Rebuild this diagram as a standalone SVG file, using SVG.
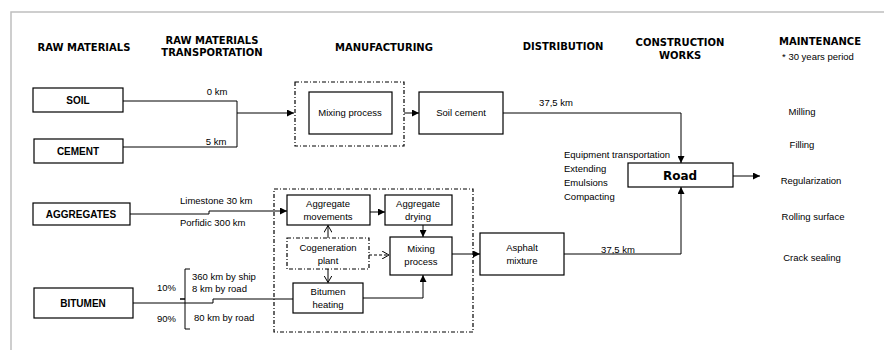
<svg xmlns="http://www.w3.org/2000/svg" width="884" height="350" viewBox="0 0 884 350">
<defs>
<marker id="ah" markerWidth="7" markerHeight="7" refX="7" refY="3.5" orient="auto" markerUnits="userSpaceOnUse"><path d="M0,0 L7,3.5 L0,7 Z" fill="#000"/></marker>
<marker id="oh" markerWidth="8" markerHeight="8" refX="7" refY="4" orient="auto" markerUnits="userSpaceOnUse"><path d="M0,0 L7,4 L0,8" fill="none" stroke="#000" stroke-width="1"/></marker>
</defs>
<style>
.hd{font-family:"DejaVu Sans",Verdana,sans-serif;font-weight:bold;font-size:10px;fill:#000;text-anchor:middle}
.bx{fill:#fff;stroke:#000;stroke-width:1.2}
.dbx{fill:none;stroke:#000;stroke-width:1.2;stroke-dasharray:4 2 1 2}
.lb{font-family:"Liberation Sans",Arial,sans-serif;font-size:9.5px;fill:#000;text-anchor:middle}
.lbl{font-family:"Liberation Sans",Arial,sans-serif;font-size:9.5px;fill:#000}
.bl{font-family:"Liberation Sans",Arial,sans-serif;font-size:10px;font-weight:bold;fill:#000;text-anchor:middle}
.ln{fill:none;stroke:#000;stroke-width:1}
.dl{fill:none;stroke:#000;stroke-width:1;stroke-dasharray:3 2}
</style>
<rect width="884" height="350" fill="#fff"/>
<path d="M11,350 V12 H884" fill="none" stroke="#bfbfbf" stroke-width="1.5"/>

<g id="headers">
<text class="hd" x="84" y="51">RAW MATERIALS</text>
<text class="hd" x="212" y="44">RAW MATERIALS</text>
<text class="hd" x="212" y="56">TRANSPORTATION</text>
<text class="hd" x="384" y="51">MANUFACTURING</text>
<text class="hd" x="563" y="50">DISTRIBUTION</text>
<text class="hd" x="680" y="46">CONSTRUCTION</text>
<text class="hd" x="680" y="59">WORKS</text>
<text class="hd" x="820" y="45">MAINTENANCE</text>
<text class="lb" x="818" y="60">* 30 years period</text>
</g>

<g id="connectors">
<path class="ln" d="M123,101 H237 V147"/>
<path class="ln" d="M123,147 H237"/>
<path class="ln" d="M237,113 H294" marker-end="url(#ah)"/>
<path class="ln" d="M404,113 H419" marker-end="url(#ah)"/>
<path class="ln" d="M503,113 H681 V163" marker-end="url(#ah)"/>
<path class="ln" d="M130,214 H209 V211 H287" marker-end="url(#ah)"/>
<path class="ln" d="M133,303 H213 V299 H293"/>
<path class="ln" d="M370,212 H385" marker-end="url(#ah)"/>
<path class="ln" d="M423,225 V237" marker-end="url(#ah)"/>
<path class="ln" d="M328,238 V225.5" marker-end="url(#oh)"/>
<path class="ln" d="M328,269 V282.5" marker-end="url(#oh)"/>
<path class="dl" d="M369,255 H389" marker-end="url(#oh)"/>
<path class="ln" d="M363,298 H423 V275" marker-end="url(#ah)"/>
<path class="ln" d="M452,254 H480" marker-end="url(#ah)"/>
<path class="ln" d="M564,254 H681 V187" marker-end="url(#ah)"/>
<path class="ln" d="M733,176 H760" marker-end="url(#ah)"/>
<path class="ln" d="M190,269 H185 V329 H190"/>
<path d="M180,299 H185" stroke="#000" stroke-width="1.5"/>
</g>

<g id="labels">
<text class="lb" x="217" y="95">0 km</text>
<text class="lb" x="216" y="145">5 km</text>
<text class="lb" x="556" y="106">37,5 km</text>
<text class="lb" x="618" y="253">37,5 km</text>
<text class="lbl" x="180" y="204">Limestone 30 km</text>
<text class="lbl" x="180" y="226">Porfidic 300 km</text>
<text class="lbl" x="157" y="291">10%</text>
<text class="lbl" x="157" y="322">90%</text>
<text class="lbl" x="192" y="280">360 km by ship</text>
<text class="lbl" x="192" y="292">8 km by road</text>
<text class="lbl" x="194" y="321">80 km by road</text>
<text class="lbl" x="564" y="158">Equipment transportation</text>
<text class="lbl" x="564" y="172">Extending</text>
<text class="lbl" x="564" y="186">Emulsions</text>
<text class="lbl" x="564" y="200">Compacting</text>
<text class="lb" x="802" y="115">Milling</text>
<text class="lb" x="802" y="148">Filling</text>
<text class="lb" x="811" y="184">Regularization</text>
<text class="lb" x="813" y="220">Rolling surface</text>
<text class="lb" x="812" y="261">Crack sealing</text>
</g>

<g id="soil"><rect class="bx" x="33" y="88" width="90" height="24"/><text class="bl" x="78" y="104">SOIL</text></g>
<g id="cement"><rect class="bx" x="34" y="139" width="89" height="24"/><text class="bl" x="78" y="155">CEMENT</text></g>
<g id="aggregates"><rect class="bx" x="33" y="203" width="97" height="22"/><text class="bl" x="81" y="218">AGGREGATES</text></g>
<g id="bitumen"><rect class="bx" x="34" y="288" width="99" height="30"/><text class="bl" x="83" y="307">BITUMEN</text></g>

<g id="manufacturing-soil"><rect class="dbx" x="295" y="82" width="109" height="64"/></g>
<g id="mixing-process-1"><rect class="bx" x="309" y="92" width="83" height="42"/><text class="lb" x="350" y="116">Mixing process</text></g>
<g id="soil-cement"><rect class="bx" x="419" y="92" width="84" height="42"/><text class="lb" x="461" y="116">Soil cement</text></g>

<g id="manufacturing-asphalt"><rect class="dbx" x="274" y="189" width="199" height="143"/></g>
<g id="aggregate-movements"><rect class="bx" x="287" y="195" width="83" height="30"/><text class="lb" x="328" y="207">Aggregate</text><text class="lb" x="328" y="220">movements</text></g>
<g id="aggregate-drying"><rect class="bx" x="385" y="195" width="67" height="30"/><text class="lb" x="418" y="207">Aggregate</text><text class="lb" x="418" y="220">drying</text></g>
<g id="cogeneration-plant"><rect class="dbx" x="287" y="238" width="82" height="31"/><text class="lb" x="328" y="251">Cogeneration</text><text class="lb" x="328" y="264">plant</text></g>
<g id="mixing-process-2"><rect class="bx" x="390" y="237" width="62" height="38"/><text class="lb" x="421" y="252">Mixing</text><text class="lb" x="421" y="265">process</text></g>
<g id="bitumen-heating"><rect class="bx" x="293" y="283" width="70" height="30"/><text class="lb" x="328" y="295">Bitumen</text><text class="lb" x="328" y="308">heating</text></g>
<g id="asphalt-mixture"><rect class="bx" x="480" y="233" width="84" height="42"/><text class="lb" x="522" y="251">Asphalt</text><text class="lb" x="522" y="264">mixture</text></g>
<g id="road"><rect class="bx" x="628" y="163" width="105" height="24"/><text class="hd" x="680" y="180" style="font-size:12px">Road</text></g>
</svg>
